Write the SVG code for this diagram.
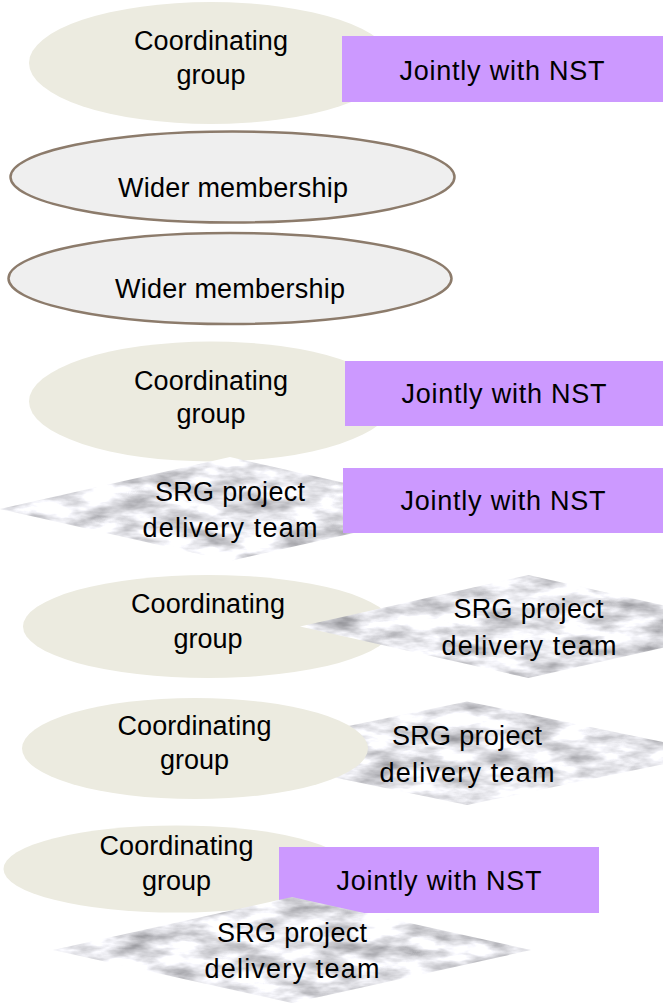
<svg xmlns="http://www.w3.org/2000/svg" width="663" height="1008" viewBox="0 0 663 1008">
<defs>
<style>
text{font-family:"Liberation Sans",Arial,sans-serif;font-size:27px;fill:#000;text-anchor:middle}
.coord{fill:#ECEBE0}
.wider{fill:#EFEFEF;stroke:#8C7B6B;stroke-width:2.5}
.nst{fill:#CC99FF}
.srg{fill:#fff;filter:url(#marble)}
</style>
<filter id="marble" x="0" y="0" width="1" height="1" color-interpolation-filters="sRGB">
<feTurbulence type="fractalNoise" baseFrequency="0.025 0.07" numOctaves="4" seed="7" result="n"/>
<feColorMatrix in="n" type="matrix" values="0.75 0 0 0 0.52  0.75 0 0 0 0.52  0.75 0 0 0 0.54  0 0 0 0 1" result="m"/>
<feComposite in="m" in2="SourceGraphic" operator="in"/>
</filter>
</defs>
<g id="connectors"/>

<g id="coord1">
<ellipse class="coord" cx="211" cy="63" rx="182" ry="61"/>
<text x="211" y="50" textLength="154">Coordinating</text>
<text x="211" y="84">group</text>
</g>
<g id="nst1">
<rect class="nst" x="342" y="36" width="321" height="66"/>
<text x="502" y="80" textLength="205">Jointly with NST</text>
</g>

<g id="wider1">
<ellipse class="wider" cx="232.5" cy="177" rx="222" ry="45.5"/>
<text x="233" y="197" textLength="230">Wider membership</text>
</g>
<g id="wider2">
<ellipse class="wider" cx="230" cy="278.5" rx="221.5" ry="45.5"/>
<text x="230" y="298" textLength="230">Wider membership</text>
</g>

<g id="coord2">
<ellipse class="coord" cx="211" cy="401.5" rx="182" ry="60"/>
<text x="211" y="390" textLength="154">Coordinating</text>
<text x="211" y="423">group</text>
</g>
<g id="nst2">
<rect class="nst" x="345" y="361" width="318" height="65"/>
<text x="504" y="403" textLength="205">Jointly with NST</text>
</g>

<g id="srg1">
<polygon class="srg" points="0,509 230,457 460,509 230,561"/>
<text x="230" y="501" textLength="150">SRG project</text>
<text x="230" y="537" textLength="175">delivery team</text>
</g>
<g id="nst3">
<rect class="nst" x="343" y="468" width="320" height="65"/>
<text x="503" y="510" textLength="205">Jointly with NST</text>
</g>

<g id="coord3">
<ellipse class="coord" cx="208" cy="626.5" rx="185" ry="51.5"/>
<text x="208" y="613" textLength="154">Coordinating</text>
<text x="208" y="648">group</text>
</g>
<g id="srg2">
<polygon class="srg" points="300,626.5 528.5,575 757,626.5 528.5,678"/>
<text x="528.5" y="618" textLength="150">SRG project</text>
<text x="529" y="655" textLength="175">delivery team</text>
</g>

<g id="srg3">
<polygon class="srg" points="217,753 467,701.5 717,753 467,805"/>
<text x="467" y="745" textLength="150">SRG project</text>
<text x="467" y="782" textLength="175">delivery team</text>
</g>
<g id="coord4">
<ellipse class="coord" cx="195" cy="748.5" rx="173" ry="50.5"/>
<text x="194.5" y="735" textLength="154">Coordinating</text>
<text x="194.5" y="769">group</text>
</g>

<g id="coord5">
<ellipse class="coord" cx="176.5" cy="869" rx="173" ry="43.5"/>
<text x="176.5" y="855" textLength="154">Coordinating</text>
<text x="176.5" y="890">group</text>
</g>
<g id="nst4">
<rect class="nst" x="279" y="847" width="320" height="66"/>
<text x="439" y="890" textLength="205">Jointly with NST</text>
</g>
<g id="srg4">
<polygon class="srg" points="53,950 292,897 531,950 292,1003"/>
<text x="292" y="942" textLength="150">SRG project</text>
<text x="292" y="978" textLength="175">delivery team</text>
</g>
</svg>
